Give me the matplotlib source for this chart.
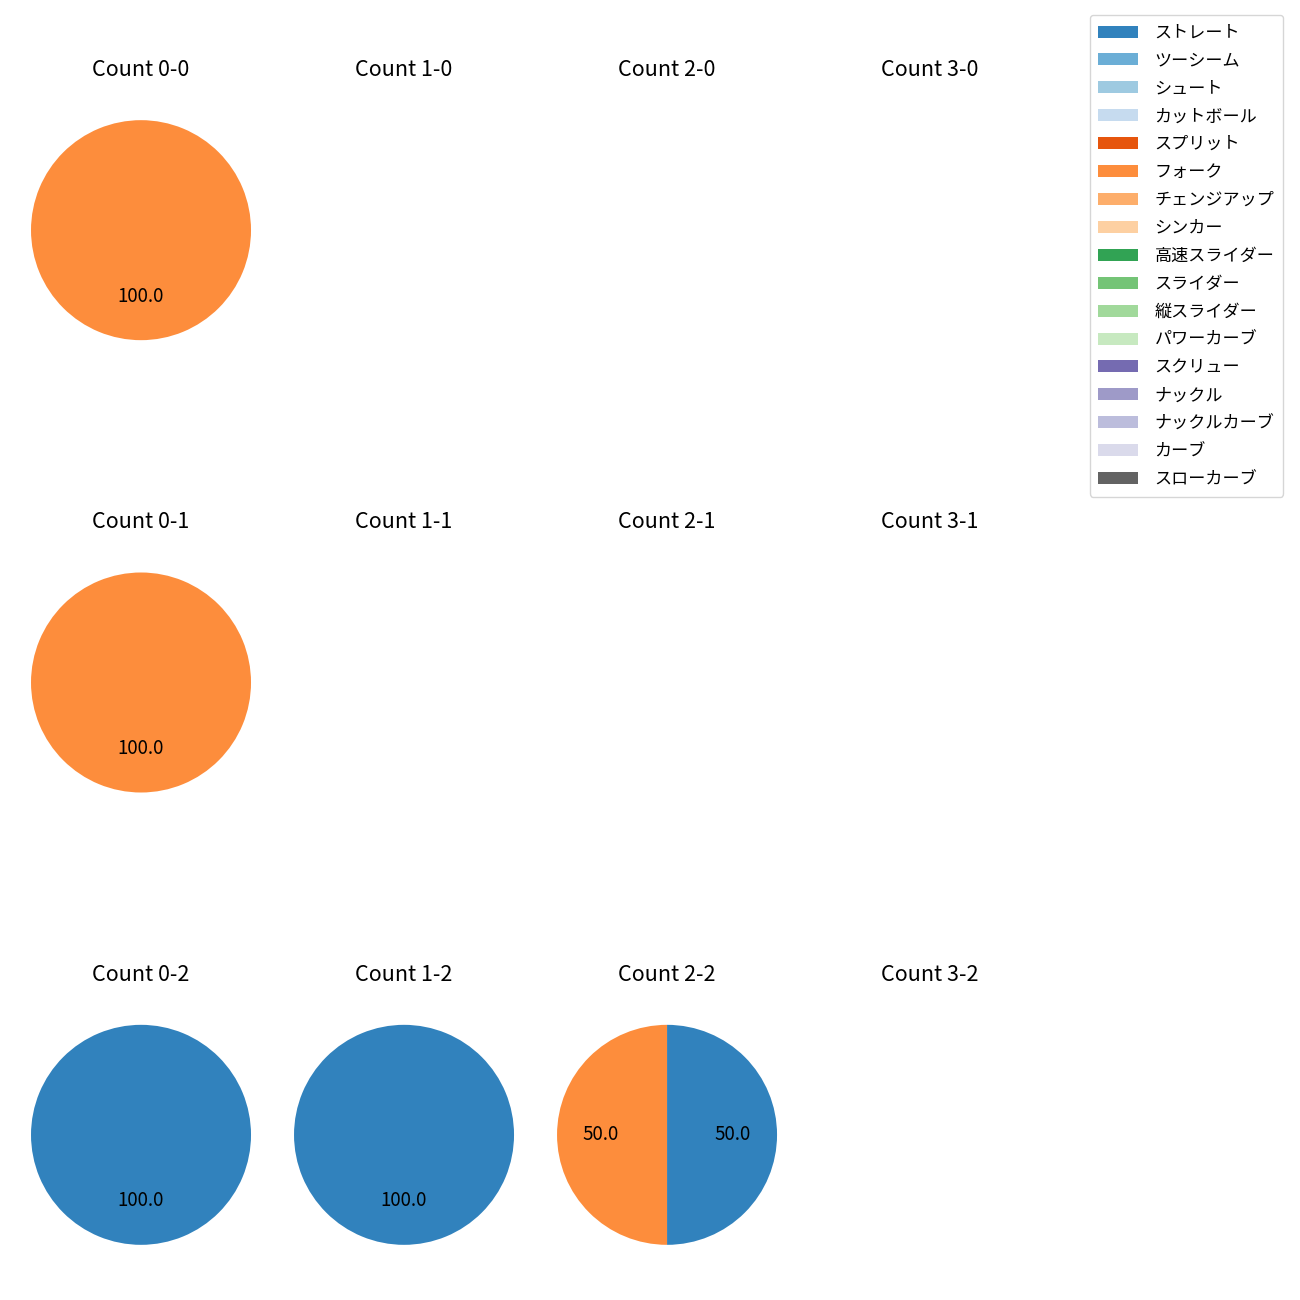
import numpy as np
import matplotlib
matplotlib.use("Agg")
import matplotlib.pyplot as plt
from matplotlib.patches import Patch

plt.rcParams['font.family'] = ['Noto Sans CJK JP', 'DejaVu Sans']

# pitch types, in legend order (tab20c colour index = position)
pitch_types = ["ストレート", "ツーシーム", "シュート", "カットボール", "スプリット",
               "フォーク", "チェンジアップ", "シンカー", "高速スライダー", "スライダー",
               "縦スライダー", "パワーカーブ", "スクリュー", "ナックル", "ナックルカーブ",
               "カーブ", "スローカーブ"]

balls = [0, 1, 2, 3]
strikes = [0, 1, 2]

# share (%) of pitch types per count "balls-strikes"
count_data = {
    "0-0": {"フォーク": 100.0},
    "0-1": {"フォーク": 100.0},
    "0-2": {"ストレート": 100.0},
    "1-2": {"ストレート": 100.0},
    "2-2": {"ストレート": 50.0, "フォーク": 50.0},
}

cmap = plt.get_cmap("tab20c")
colors = {p: cmap(i) for i, p in enumerate(pitch_types)}

fig, axes = plt.subplots(3, 4, figsize=(13, 13))
fig.subplots_adjust(left=0.0027, right=0.8212, top=0.9288, bottom=0.0212,
                    wspace=-0.0436, hspace=0.6436)

for s in strikes:
    for b in balls:
        ax = axes[s, b]
        key = f"{b}-{s}"
        ax.set_title(f"Count {key}", fontsize=15.5, pad=12)
        d = count_data.get(key)
        if d:
            labels = [p for p in pitch_types if p in d]
            vals = [d[p] for p in labels]
            ax.pie(vals, colors=[colors[p] for p in labels], autopct='%.1f',
                   startangle=90, counterclock=False,
                   textprops={'fontsize': 13.5})
        else:
            ax.axis('off')

handles = [Patch(facecolor=colors[p], label=p) for p in pitch_types]
fig.legend(handles=handles, loc='upper right',
           bbox_to_anchor=(1283 / 1300, 1 - 15 / 1300), borderaxespad=0,
           fontsize=12.3, handlelength=2.3, labelspacing=0.58,
           handletextpad=1.0, borderpad=0.5)

fig.savefig("out.png", dpi=100)
